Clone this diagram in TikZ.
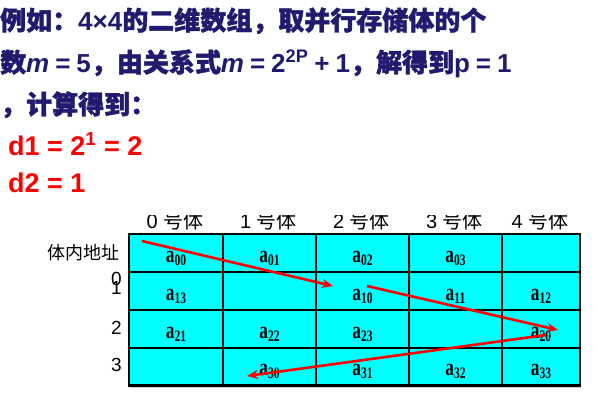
\documentclass[tikz,border=0pt]{standalone}
\usepackage{fontspec}
\usepackage{graphicx}
\setmainfont{Liberation Sans}
\newfontfamily\cjk{Noto Sans CJK SC}
\newfontfamily\cjkb{Noto Sans CJK SC}[FakeBold=1.6]
\newfontfamily\serifb{Liberation Serif}
\usetikzlibrary{arrows.meta}
\definecolor{navy}{RGB}{34,26,110}
\definecolor{cellcyan}{RGB}{0,255,255}
\definecolor{arrred}{RGB}{255,0,0}
\newcommand\cellA[1]{\scalebox{0.72}[1]{a\raisebox{-3pt}{\fontsize{16}{16}\selectfont #1}}}
\begin{document}
\begin{tikzpicture}[x=1pt,y=-1pt,
  titletext/.style={inner sep=0pt, anchor=base west, text=navy, font=\fontsize{26}{26}\selectfont\bfseries},
  redtext/.style={inner sep=0pt, anchor=base west, text=arrred, font=\fontsize{27}{27}\selectfont\bfseries},
  celltext/.style={inner sep=0pt, anchor=base, font=\serifb\bfseries\fontsize{24}{24}\selectfont},
  collabel/.style={inner sep=0pt, anchor=base, font=\fontsize{20}{20}\selectfont},
  rowlabel/.style={inner sep=0pt, anchor=base east, font=\fontsize{19}{19}\selectfont},
  grid line/.style={draw=black, line width=2pt},
  arr/.style={draw=arrred, line width=2.6pt, -{Stealth[length=11pt,width=9pt]}}]
\useasboundingbox (0,0) rectangle (596,400);
% title
\node[titletext] (l1) at (0,30) {{\cjkb 例如：}4×4{\cjkb 的二维数组，取并行存储体的个}};
\node[titletext] (l2) at (0,72) {\spaceskip=6pt{\cjkb 数}\textit{m} = 5{\cjkb ，由关系式}\textit{m} = 2\textsuperscript{2P} + 1{\cjkb ，解得到}p = 1};
\node[titletext] (l3) at (0,114) {{\cjkb ，计算得到：}};
\node[redtext] (d1) at (8,155) {d1 = 2\textsuperscript{1} = 2};
\node[redtext] (d2) at (8,192) {d2 = 1};
% table
\fill[cellcyan] (129,234) rectangle (580,385);
\draw[gray!40, line width=1.5pt] (130,387.5) -- (581,387.5);
\foreach \x in {129,223,316,409,502,580} \draw[grid line] (\x,233) -- (\x,386);
\foreach \y in {234,272,310,348} \draw[grid line] (128,\y) -- (581,\y);
\draw[draw=black, line width=3pt] (128,385) -- (581,385);
% column labels
\begin{scope}
\clip (100,215) rectangle (596,233);
\node[collabel] (c0) at (175,228) {0 {\cjk 号体}};
\node[collabel] (c1) at (268.5,228) {1 {\cjk 号体}};
\node[collabel] (c2) at (361.5,228) {2 {\cjk 号体}};
\node[collabel] (c3) at (454.5,228) {3 {\cjk 号体}};
\node[collabel] (c4) at (540,228) {4 {\cjk 号体}};
\end{scope}
% row labels
\node[rowlabel, font=\cjk\fontsize{18}{18}\selectfont] (addr) at (120,259) {体内地址};
\node[rowlabel] (r0) at (122,285) {0};
\node[rowlabel] (r1) at (122,294) {1};
\node[rowlabel] (r2) at (122,334) {2};
\node[rowlabel] (r3) at (122,371) {3};
% cells
\node[celltext] (a00) at (176,262) {\cellA{00}};
\node[celltext] (a01) at (269.5,262) {\cellA{01}};
\node[celltext] (a02) at (362.5,262) {\cellA{02}};
\node[celltext] (a03) at (455.5,262) {\cellA{03}};
\node[celltext] (a13) at (176,300) {\cellA{13}};
\node[celltext] (a10) at (362.5,300) {\cellA{10}};
\node[celltext] (a11) at (455.5,300) {\cellA{11}};
\node[celltext] (a12) at (541,300) {\cellA{12}};
\node[celltext] (a21) at (176,338) {\cellA{21}};
\node[celltext] (a22) at (269.5,338) {\cellA{22}};
\node[celltext] (a23) at (362.5,338) {\cellA{23}};
\node[celltext] (a20) at (541,338) {\cellA{20}};
\node[celltext] (a30) at (269.5,375.5) {\cellA{30}};
\node[celltext] (a31) at (362.5,375.5) {\cellA{31}};
\node[celltext] (a32) at (455.5,375.5) {\cellA{32}};
\node[celltext] (a33) at (541,375.5) {\cellA{33}};
% arrows
\coordinate (s1) at (142,241);
\coordinate (e1) at (333,286);
\coordinate (s2) at (367,286);
\coordinate (e2) at (558,330);
\coordinate (s3) at (546,335);
\coordinate (e3) at (247,376);
\draw[arr] (s1) -- (e1);
\draw[arr] (s2) -- (e2);
\draw[arr] (s3) -- (e3);
\end{tikzpicture}
\end{document}
